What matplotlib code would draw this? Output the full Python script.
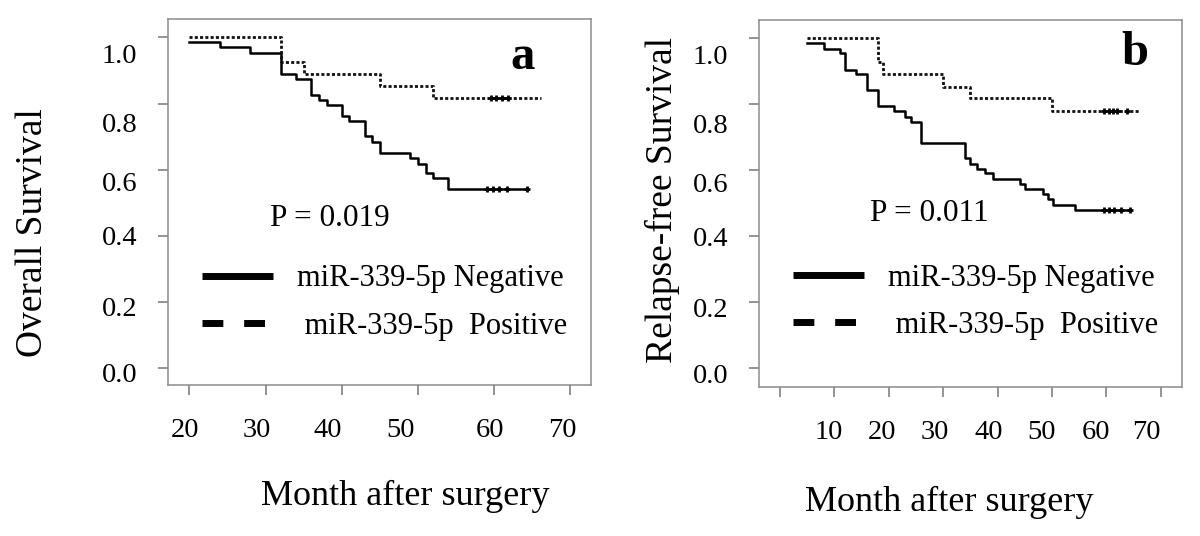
import numpy as np
import matplotlib
matplotlib.use('Agg')
import matplotlib.pyplot as plt
from matplotlib.lines import Line2D
from matplotlib.transforms import ScaledTranslation

plt.rcParams['font.family'] = ['Liberation Serif', 'DejaVu Serif']

# (a) overall survival, months after surgery
os_neg_t = [20, 24, 28, 32, 34, 36, 37, 38, 40, 41, 43, 44, 45, 49, 50, 51, 52, 54, 64.3]
os_neg_s = [0.985, 0.970, 0.953, 0.890, 0.875, 0.825, 0.810, 0.795, 0.761, 0.746,
            0.701, 0.684, 0.651, 0.636, 0.618, 0.590, 0.575, 0.540, 0.540]
os_neg_cens = [59.0, 59.8, 60.6, 61.7, 64.3]
os_pos_t = [20, 32, 35, 45, 52, 66.2]
os_pos_s = [1.0, 0.926, 0.889, 0.854, 0.817, 0.817]
os_pos_cens = [59.6, 60.3, 61.0, 61.8]

# (b) relapse-free survival
rfs_neg_t = [5, 8, 11, 12, 14, 16, 18, 21, 23, 24, 26, 34, 35, 36.2, 37.7, 39.1,
             44.1, 45, 48.3, 49.2, 50.2, 54.2, 64.3]
rfs_neg_s = [0.985, 0.967, 0.955, 0.904, 0.891, 0.843, 0.795, 0.780, 0.762, 0.747,
             0.684, 0.638, 0.620, 0.605, 0.591, 0.573, 0.559, 0.542, 0.528, 0.513,
             0.496, 0.481, 0.481]
rfs_neg_cens = [59.6, 60.5, 61.4, 62.6, 64.3]
rfs_pos_t = [5, 18, 19, 30, 35, 50, 66.2]
rfs_pos_s = [1.0, 0.927, 0.891, 0.853, 0.818, 0.780, 0.780]
rfs_pos_cens = [59.6, 60.4, 61.2, 62.0, 63.8]

yticks = [0.0, 0.2, 0.4, 0.6, 0.8, 1.0]
xticks_a = [20, 30, 40, 50, 60, 70]
xticks_b = [0, 10, 20, 30, 40, 50, 60, 70]
xlabels_b = ['', '10', '20', '30', '40', '50', '60', '70']
leg_labels = ['miR-339-5p Negative', ' miR-339-5p  Positive']

# the labels in the source figure sit a bit off their ticks (pixels)
ylab_shift = [5, 5, 0, 12, 19, 16]
xlab_shift_a = [-4, -9, -14, -17, -4, -8]
xlab_shift_b = [0, -6, -7, -8, -9, -10, -10, -14]

fig = plt.figure(figsize=(12, 5.36), dpi=100)
ax1 = fig.add_axes([0.14, 0.2817, 0.3525, 0.6823])
ax2 = fig.add_axes([0.6325, 0.2785, 0.3525, 0.684])


def draw_panel(ax, neg_t, neg_s, neg_c, pos_t, pos_s, pos_c):
    ax.step(neg_t, neg_s, where='post', color='black', lw=1.8)
    ax.plot(neg_c, [neg_s[-1]] * len(neg_c), '+', color='black', ms=5, mew=2)
    ax.step(pos_t, pos_s, where='post', color='#111111', lw=2.0, linestyle=(0, (1.1, 0.8)))
    ax.plot(pos_c, [pos_s[-1]] * len(pos_c), '+', color='black', ms=5, mew=2)
    for sp in ax.spines.values():
        sp.set_color('#8c8c8c')
        sp.set_linewidth(1.1)
    ax.tick_params(axis='both', direction='out', length=7, width=1.1, color='#777777',
                   labelsize=20.5)
    ax.tick_params(axis='y', pad=15)
    ax.tick_params(axis='x', pad=17)
    ax.set_yticks(yticks)
    ax.set_yticklabels(['%.1f' % v for v in yticks])


def shift_labels(labels, shifts, horizontal):
    for lab, d in zip(labels, shifts):
        if horizontal:
            off = ScaledTranslation(d / 100, 0, fig.dpi_scale_trans)
        else:
            off = ScaledTranslation(0, -d / 100, fig.dpi_scale_trans)
        lab.set_transform(lab.get_transform() + off)


def add_legend(ax, y):
    handles = [Line2D([], [], color='black', lw=5, solid_capstyle='butt'),
               Line2D([], [], color='black', lw=5, linestyle=(0, (3, 3)), dash_capstyle='butt')]
    ax.legend(handles, leg_labels, loc='center left', bbox_to_anchor=(0.08, y),
              frameon=False, fontsize=22, handlelength=2.32, handletextpad=0.78,
              labelspacing=0.6, borderpad=0, borderaxespad=0)


# panel a
draw_panel(ax1, os_neg_t, os_neg_s, os_neg_cens, os_pos_t, os_pos_s, os_pos_cens)
ax1.set_xlim(17.2, 72.7)
ax1.set_ylim(-0.052, 1.055)
ax1.set_xticks(xticks_a)
ax1.set_xticklabels([str(v) for v in xticks_a])
ax1.set_ylabel('Overall Survival', fontsize=27)
ax1.yaxis.label.set_va('center')
ax1.yaxis.set_label_coords(-0.319, 0.416)
ax1.set_xlabel('Month after surgery', fontsize=26)
ax1.xaxis.label.set_va('center')
ax1.xaxis.set_label_coords(0.56, -0.306)
ax1.text(0.839, 0.898, 'a', transform=ax1.transAxes, fontsize=35, fontweight='bold',
         ha='center', va='center')
ax1.text(0.241, 0.456, 'P = 0.019', transform=ax1.transAxes, fontsize=22.5,
         ha='left', va='center')
add_legend(ax1, 0.2256)
shift_labels(ax1.get_yticklabels(), ylab_shift, False)
shift_labels(ax1.get_xticklabels(), xlab_shift_a, True)

# panel b
draw_panel(ax2, rfs_neg_t, rfs_neg_s, rfs_neg_cens, rfs_pos_t, rfs_pos_s, rfs_pos_cens)
ax2.set_xlim(-3.86, 73.9)
ax2.set_ylim(-0.056, 1.055)
ax2.set_xticks(xticks_b)
ax2.set_xticklabels(xlabels_b)
ax2.set_ylabel('Relapse-free Survival', fontsize=27)
ax2.yaxis.label.set_va('center')
ax2.yaxis.set_label_coords(-0.229, 0.509)
ax2.set_xlabel('Month after surgery', fontsize=26)
ax2.xaxis.label.set_va('center')
ax2.xaxis.set_label_coords(0.449, -0.317)
ax2.text(0.889, 0.909, 'b', transform=ax2.transAxes, fontsize=35, fontweight='bold',
         ha='center', va='center')
ax2.text(0.262, 0.473, 'P = 0.011', transform=ax2.transAxes, fontsize=22.5,
         ha='left', va='center')
add_legend(ax2, 0.232)
shift_labels(ax2.get_yticklabels(), ylab_shift, False)
shift_labels(ax2.get_xticklabels(), xlab_shift_b, True)

fig.savefig('out.png', dpi=100)
